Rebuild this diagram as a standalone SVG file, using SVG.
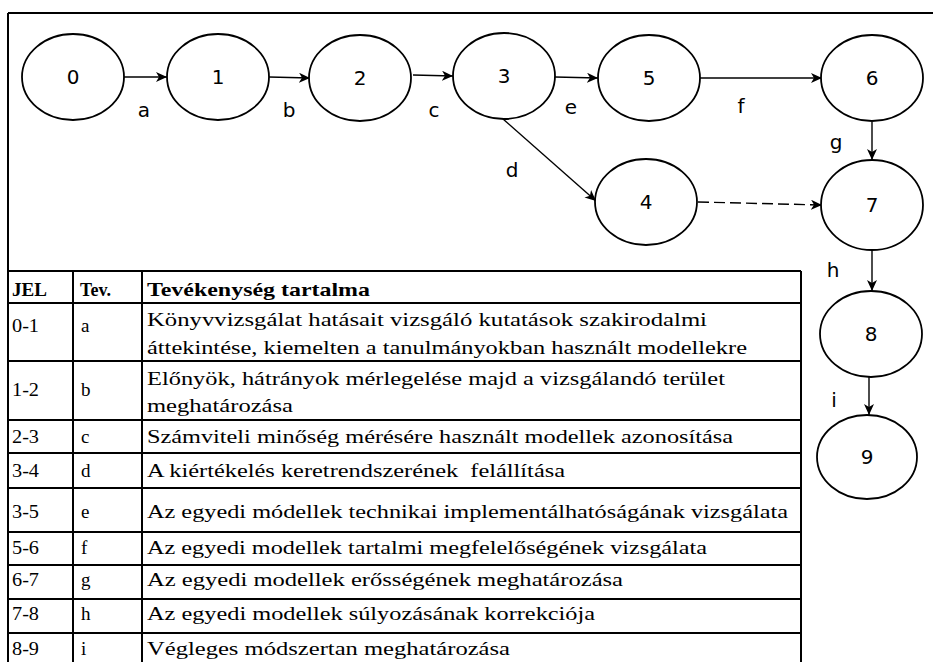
<svg xmlns="http://www.w3.org/2000/svg" width="933" height="662" viewBox="0 0 933 662">
<style>
.node ellipse{fill:#fff;stroke:#000;stroke-width:1.8}
.node text{font-family:"DejaVu Sans",sans-serif;font-size:20px;text-anchor:middle;fill:#000}
.lbl{font-family:"DejaVu Sans",sans-serif;font-size:20px;text-anchor:middle;fill:#000}
.edge{stroke:#000;stroke-width:1.4;fill:none;marker-end:url(#arr)}
.dash{stroke-dasharray:11 5}
.grid{stroke:#000;stroke-width:2;fill:none}
.t{font-family:"Liberation Serif","Times New Roman",serif;font-size:19px;fill:#000}
.b{font-weight:bold}
</style>
<defs>
<marker id="arr" markerUnits="userSpaceOnUse" markerWidth="12" markerHeight="10" refX="11" refY="5" orient="auto">
<path d="M0,0 L11,5 L0,10 L3,5 Z" fill="#000"/>
</marker>
</defs>
<rect width="933" height="662" fill="#fff"/>
<g id="frame" class="grid">
<path d="M8,13 H933 M8,13 V662"/>
</g>
<g id="connectors">
<path class="edge" d="M124,77 L167,77"/>
<path class="edge" d="M269,77 L310,78"/>
<path class="edge" d="M413,75 L453,76"/>
<path class="edge" d="M555,77 L598,78"/>
<path class="edge" d="M700,78 L822,78"/>
<path class="edge" d="M872,122 L872,160"/>
<path class="edge" d="M503,119 L596,201"/>
<path class="edge dash" d="M698,202 L822,205"/>
<path class="edge" d="M872,250 L872,291"/>
<path class="edge" d="M869,377 L869,415"/>
<text class="lbl" x="144" y="117">a</text>
<text class="lbl" x="289" y="117">b</text>
<text class="lbl" x="434" y="117">c</text>
<text class="lbl" x="571" y="114">e</text>
<text class="lbl" x="741" y="113">f</text>
<text class="lbl" x="836" y="149">g</text>
<text class="lbl" x="512" y="177">d</text>
<text class="lbl" x="833" y="277">h</text>
<text class="lbl" x="834" y="407">i</text>
</g>
<g id="n0" class="node"><ellipse cx="73" cy="77" rx="51" ry="43"/><text x="73" y="84">0</text></g>
<g id="n1" class="node"><ellipse cx="218" cy="77" rx="51" ry="43"/><text x="218" y="84">1</text></g>
<g id="n2" class="node"><ellipse cx="360" cy="78" rx="51" ry="43"/><text x="360" y="85">2</text></g>
<g id="n3" class="node"><ellipse cx="504" cy="76" rx="51" ry="43"/><text x="504" y="83">3</text></g>
<g id="n5" class="node"><ellipse cx="649" cy="78" rx="51" ry="43"/><text x="649" y="85">5</text></g>
<g id="n6" class="node"><ellipse cx="872" cy="78" rx="51" ry="43"/><text x="872" y="85">6</text></g>
<g id="n4" class="node"><ellipse cx="646" cy="202" rx="51" ry="43"/><text x="646" y="209">4</text></g>
<g id="n7" class="node"><ellipse cx="872" cy="205" rx="51" ry="45"/><text x="872" y="212">7</text></g>
<g id="n8" class="node"><ellipse cx="871" cy="334" rx="51" ry="43"/><text x="871" y="341">8</text></g>
<g id="n9" class="node"><ellipse cx="867" cy="457" rx="50" ry="42"/><text x="867" y="464">9</text></g>
<g id="table">
<path class="grid" d="M8,271 H801 M8,303 H801 M8,361 H801 M8,420 H801 M8,453 H801 M8,488 H801 M8,532 H801 M8,565 H801 M8,599 H801 M8,633 H801 M73,271 V670 M142,271 V670 M801,271 V670"/>
<text class="t b" x="12" y="296" textLength="35" lengthAdjust="spacingAndGlyphs">JEL</text>
<text class="t b" x="80" y="296" textLength="31" lengthAdjust="spacingAndGlyphs">Tev.</text>
<text class="t b" x="147" y="296" textLength="223" lengthAdjust="spacingAndGlyphs">Tevékenység tartalma</text>
<text class="t" x="12" y="332" textLength="27" lengthAdjust="spacingAndGlyphs">0-1</text><text class="t" x="81" y="332">a</text>
<text class="t" x="147" y="326" textLength="560" lengthAdjust="spacingAndGlyphs">Könyvvizsgálat hatásait vizsgáló kutatások szakirodalmi</text>
<text class="t" x="147" y="354" textLength="600" lengthAdjust="spacingAndGlyphs">áttekintése, kiemelten a tanulmányokban használt modellekre</text>
<text class="t" x="12" y="396" textLength="27" lengthAdjust="spacingAndGlyphs">1-2</text><text class="t" x="81" y="396">b</text>
<text class="t" x="147" y="385" textLength="578" lengthAdjust="spacingAndGlyphs">Előnyök, hátrányok mérlegelése majd a vizsgálandó terület</text>
<text class="t" x="147" y="412" textLength="146" lengthAdjust="spacingAndGlyphs">meghatározása</text>
<text class="t" x="12" y="443" textLength="27" lengthAdjust="spacingAndGlyphs">2-3</text><text class="t" x="81" y="443">c</text>
<text class="t" x="147" y="443" textLength="586" lengthAdjust="spacingAndGlyphs">Számviteli minőség mérésére használt modellek azonosítása</text>
<text class="t" x="12" y="477" textLength="27" lengthAdjust="spacingAndGlyphs">3-4</text><text class="t" x="81" y="477">d</text>
<text class="t" x="147" y="477" textLength="418" lengthAdjust="spacingAndGlyphs" xml:space="preserve">A kiértékelés keretrendszerének  felállítása</text>
<text class="t" x="12" y="518" textLength="27" lengthAdjust="spacingAndGlyphs">3-5</text><text class="t" x="81" y="518">e</text>
<text class="t" x="147" y="518" textLength="641" lengthAdjust="spacingAndGlyphs">Az egyedi módellek technikai implementálhatóságának vizsgálata</text>
<text class="t" x="12" y="554" textLength="27" lengthAdjust="spacingAndGlyphs">5-6</text><text class="t" x="81" y="554">f</text>
<text class="t" x="147" y="554" textLength="560" lengthAdjust="spacingAndGlyphs">Az egyedi modellek tartalmi megfelelőségének vizsgálata</text>
<text class="t" x="12" y="586" textLength="27" lengthAdjust="spacingAndGlyphs">6-7</text><text class="t" x="81" y="586">g</text>
<text class="t" x="147" y="586" textLength="476" lengthAdjust="spacingAndGlyphs">Az egyedi modellek erősségének meghatározása</text>
<text class="t" x="12" y="620" textLength="27" lengthAdjust="spacingAndGlyphs">7-8</text><text class="t" x="81" y="620">h</text>
<text class="t" x="147" y="620" textLength="448" lengthAdjust="spacingAndGlyphs">Az egyedi modellek súlyozásának korrekciója</text>
<text class="t" x="12" y="655" textLength="27" lengthAdjust="spacingAndGlyphs">8-9</text><text class="t" x="81" y="655">i</text>
<text class="t" x="147" y="655" textLength="363" lengthAdjust="spacingAndGlyphs">Végleges módszertan meghatározása</text>
</g>
</svg>
